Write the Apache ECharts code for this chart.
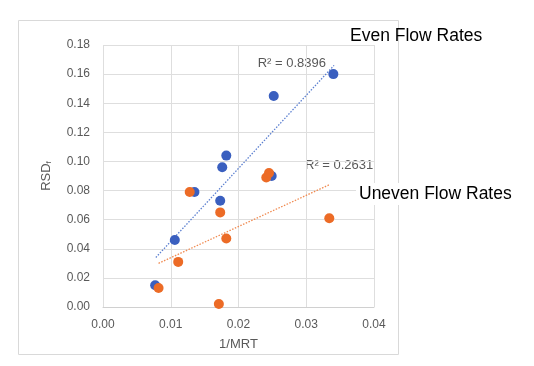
<!DOCTYPE html>
<html>
<head>
<meta charset="utf-8">
<script src="https://cdn.jsdelivr.net/npm/echarts@6/dist/echarts.min.js"></script>
<style>
  html, body { margin: 0; padding: 0; background: #fff; }
  #chart { width: 534px; height: 366px; }
</style>
</head>
<body>
<div id="chart"></div>
<script>
// 均匀流量 (Even flow rates): [1/MRT, RSDf]
var evenPoints = [
    [0.0077, 0.015], [0.0106, 0.046], [0.0135, 0.079], [0.0173, 0.073],
    [0.0176, 0.096], [0.0182, 0.104], [0.0249, 0.090], [0.0252, 0.145],
    [0.0340, 0.160]
]
// 不均匀流量 (Uneven flow rates)
var unevenPoints = [
    [0.0082, 0.013], [0.0111, 0.031], [0.0128, 0.079], [0.0171, 0.002],
    [0.0173, 0.065], [0.0182, 0.047], [0.0241, 0.089], [0.0245, 0.092],
    [0.0334, 0.061]
]
// 趋势线端点，读自原图
var evenTrend = [[0.0078, 0.034], [0.0341, 0.166]]
var unevenTrend = [[0.0082, 0.030], [0.0334, 0.084]]
var evenR2 = 'R² = 0.8396'
var unevenR2 = 'R² = 0.2631'

var BLUE = '#3a5fbf', ORANGE = '#ec6b26'
var labelFont = 'Liberation Sans, Arial, sans-serif'

var chart = echarts.init(document.getElementById('chart'))

var option = {
    animation: false,
    grid: {left: 103, right: 160, top: 45, bottom: 59},
    xAxis: {
        type: 'value',
        min: 0, max: 0.04, interval: 0.01,
        name: '1/MRT',
        nameLocation: 'middle',
        nameGap: 31,
        nameTextStyle: {color: '#595959', fontSize: 13, fontFamily: labelFont},
        axisLine: {show: true, lineStyle: {color: '#d0d0d0'}},
        axisTick: {show: false},
        axisLabel: {
            color: '#595959', fontSize: 12, fontFamily: labelFont, margin: 12,
            formatter: v => v.toFixed(2)
        },
        splitLine: {show: true, lineStyle: {color: '#dedede'}}
    },
    yAxis: {
        type: 'value',
        min: 0, max: 0.18, interval: 0.02,
        name: '{a|RSD}{b|f}',
        nameLocation: 'middle',
        nameGap: 50,
        nameRotate: 90,
        nameTextStyle: {
            rich: {
                a: {color: '#595959', fontSize: 13, fontFamily: labelFont},
                b: {color: '#595959', fontSize: 8, fontFamily: labelFont, verticalAlign: 'bottom', padding: [6, 0, 0, 0]}
            }
        },
        axisLine: {show: false},
        axisTick: {show: false},
        axisLabel: {
            color: '#595959', fontSize: 12, fontFamily: labelFont, margin: 13,
            formatter: v => v.toFixed(2)
        },
        splitLine: {show: true, lineStyle: {color: '#dedede'}}
    },
    series: [
        {
            name: 'even-trend',
            type: 'line',
            data: evenTrend,
            symbol: 'none',
            lineStyle: {color: '#5b7fd0', width: 1.3, type: [1.5, 1.5]},
            silent: true,
            z: 1
        },
        {
            name: 'uneven-trend',
            type: 'line',
            data: unevenTrend,
            symbol: 'none',
            lineStyle: {color: '#f08a50', width: 1.3, type: [1.5, 1.5]},
            silent: true,
            z: 1
        },
        {
            name: 'Even',
            type: 'scatter',
            data: evenPoints,
            symbolSize: 10,
            itemStyle: {color: BLUE, opacity: 1},
            z: 3
        },
        {
            name: 'Uneven',
            type: 'scatter',
            data: unevenPoints,
            symbolSize: 10,
            itemStyle: {color: ORANGE, opacity: 1},
            z: 4
        }
    ],
    graphic: [
        {
            type: 'rect',
            shape: {x: 18.5, y: 20.5, width: 380, height: 334},
            style: {fill: 'none', stroke: '#d9d9d9', lineWidth: 1},
            silent: true,
            z: -10
        },
        {
            type: 'text',
            right: 534 - 326, top: 57,
            style: {text: evenR2, fill: '#595959', fontSize: 13, fontFamily: labelFont}
        },
        {
            type: 'text',
            left: 305, top: 159,
            style: {text: unevenR2, fill: '#595959', fontSize: 13, fontFamily: labelFont}
        },
        {
            type: 'text',
            left: 350, top: 27,
            style: {text: 'Even Flow Rates', fill: '#000', fontSize: 17.5, fontFamily: labelFont}
        },
        {
            type: 'text',
            left: 356, top: 183,
            z: 100,
            style: {
                text: 'Uneven Flow Rates', fill: '#000', fontSize: 17.5, fontFamily: labelFont,
                backgroundColor: '#fff', padding: [2, 3]
            }
        }
    ]
}

chart.setOption(option)
</script>
</body>
</html>
